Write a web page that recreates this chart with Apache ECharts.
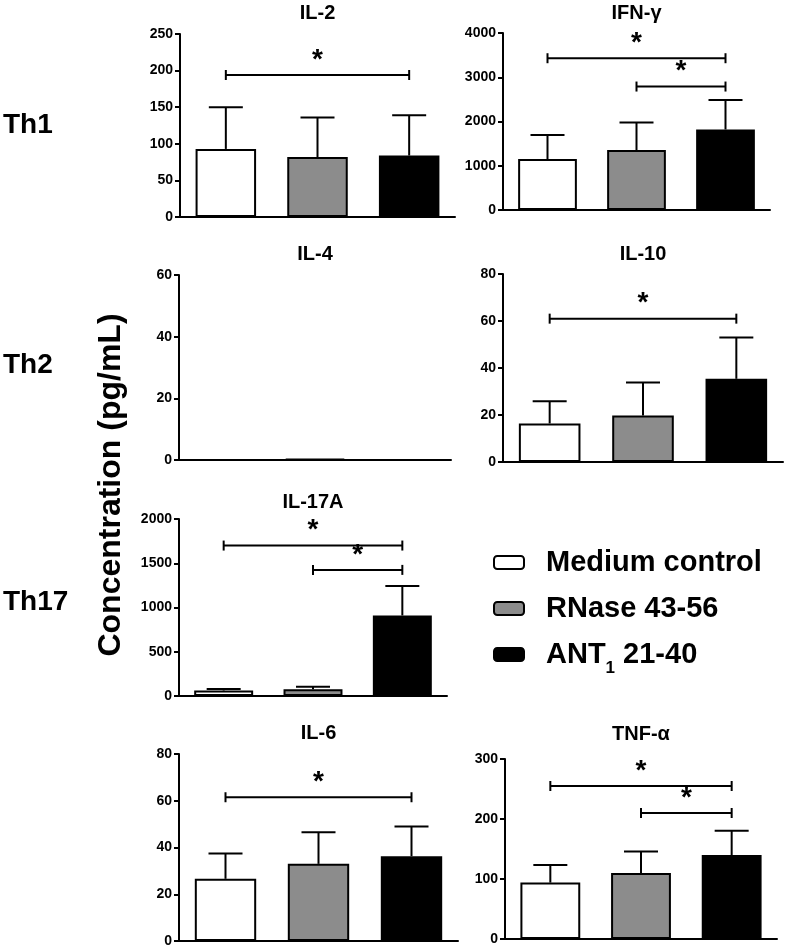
<!DOCTYPE html>
<html>
<head>
<meta charset="utf-8">
<script src="https://cdn.jsdelivr.net/npm/echarts@6/dist/echarts.min.js"></script>
<style>
  html, body { margin: 0; padding: 0; background: #fff; }
  #chart { width: 788px; height: 949px; }
</style>
</head>
<body>
<div id="chart"></div>
<script>
// groups (legend order) and bar fills
var groups = ["Medium control", "RNase 43-56", "ANT1 21-40"];
var fills = ["#ffffff", "#8c8c8c", "#000000"];

// mean and SD (pg/mL)
var il2Mean = [93, 82, 84];
var il2Sd = [57, 54, 55];
var ifnMean = [1150, 1355, 1820];
var ifnSd = [545, 620, 665];
var il4Mean = [0, 0.4, 0];
var il4Sd = [0, 0, 0];
var il10Mean = [16.4, 19.8, 35.4];
var il10Sd = [9.4, 14, 17.6];
var il17Mean = [62, 75, 910];
var il17Sd = [16, 30, 333];
var il6Mean = [26.6, 33, 36.3];
var il6Sd = [10.8, 13.5, 12.7];
var tnfMean = [94, 110, 140];
var tnfSd = [29.5, 36, 40.5];

// significance brackets: [from group, to group, height]
var il2Sig = [[0, 2, 194]];
var ifnSig = [[0, 2, 3430], [1, 2, 2790]];
var il4Sig = [];
var il10Sig = [[0, 2, 61]];
var il17Sig = [[0, 2, 1700], [1, 2, 1425]];
var il6Sig = [[0, 2, 61.5]];
var tnfSig = [[0, 2, 255], [1, 2, 210]];

var FONT = "'Liberation Sans', Arial, sans-serif";

var panels = [
  { title: "IL-2", mean: il2Mean, sd: il2Sd, sig: il2Sig, max: 250, step: 50, rect: [180, 34, 275, 183], ty: 13 },
  { title: "IFN-γ", mean: ifnMean, sd: ifnSd, sig: ifnSig, max: 4000, step: 1000, rect: [503, 33, 267, 177], ty: 13 },
  { title: "IL-4", mean: il4Mean, sd: il4Sd, sig: il4Sig, max: 60, step: 20, rect: [179, 275, 272, 185], ty: 254 },
  { title: "IL-10", mean: il10Mean, sd: il10Sd, sig: il10Sig, max: 80, step: 20, rect: [503, 274, 280, 188], ty: 254 },
  { title: "IL-17A", mean: il17Mean, sd: il17Sd, sig: il17Sig, max: 2000, step: 500, rect: [179, 519, 268, 177], ty: 502 },
  { title: "IL-6", mean: il6Mean, sd: il6Sd, sig: il6Sig, max: 80, step: 20, rect: [179, 754, 279, 187], ty: 733 },
  { title: "TNF-α", mean: tnfMean, sd: tnfSd, sig: tnfSig, max: 300, step: 100, rect: [505, 759, 272, 180], ty: 734 }
];

function renderErr(params, api) {
  var b = api.coord([api.value(0), api.value(1)]);
  var t = api.coord([api.value(0), api.value(2)]);
  var st = { stroke: "#000", lineWidth: 2 };
  return {
    type: "group",
    children: [
      { type: "line", shape: { x1: b[0], y1: b[1], x2: t[0], y2: t[1] }, style: st },
      { type: "line", shape: { x1: t[0] - 17, y1: t[1], x2: t[0] + 17, y2: t[1] }, style: st }
    ]
  };
}

function renderSig(params, api) {
  var a = api.coord([api.value(0), api.value(2)]);
  var b = api.coord([api.value(1), api.value(2)]);
  var st = { stroke: "#000", lineWidth: 2 };
  return {
    type: "group",
    children: [
      { type: "line", shape: { x1: a[0], y1: a[1], x2: b[0], y2: b[1] }, style: st },
      { type: "line", shape: { x1: a[0], y1: a[1] - 5, x2: a[0], y2: a[1] + 5 }, style: st },
      { type: "line", shape: { x1: b[0], y1: b[1] - 5, x2: b[0], y2: b[1] + 5 }, style: st },
      {
        type: "text",
        style: {
          text: "*", x: (a[0] + b[0]) / 2, y: a[1] - 1,
          font: "bold 28px " + FONT, fill: "#000",
          align: "center", verticalAlign: "bottom",
          textAlign: "center", textVerticalAlign: "bottom"
        }
      }
    ]
  };
}

var grid = [], xAxis = [], yAxis = [], series = [], graphic = [];

panels.forEach(function (p, i) {
  var r = p.rect;
  grid.push({ left: r[0], top: r[1], width: r[2], height: r[3] });
  xAxis.push({
    type: "category", gridIndex: i, data: groups,
    axisLine: { lineStyle: { color: "#000", width: 2 } },
    axisTick: { show: false }, axisLabel: { show: false }
  });
  yAxis.push({
    type: "value", gridIndex: i, min: 0, max: p.max, interval: p.step,
    splitLine: { show: false },
    axisLine: { show: true, lineStyle: { color: "#000", width: 2 } },
    axisTick: { show: true, length: 5, lineStyle: { color: "#000", width: 2 } },
    axisLabel: {
      color: "#000", fontWeight: "bold", fontSize: 14, fontFamily: FONT, margin: 7,
      formatter: function (v) { return String(v); }
    }
  });
  groups.forEach(function (g, k) {
    var d = groups.map(function (_, j) { return j === k ? p.mean[j] : "-"; });
    series.push({
      type: "bar", name: g, xAxisIndex: i, yAxisIndex: i, data: d,
      barWidth: "66%", barGap: "-100%", silent: true,
      itemStyle: { color: fills[k], borderColor: "#000", borderWidth: 2 }
    });
  });
  var err = [];
  p.mean.forEach(function (m, j) { if (p.sd[j] > 0) err.push([j, m, m + p.sd[j]]); });
  if (err.length) {
    series.push({
      type: "custom", xAxisIndex: i, yAxisIndex: i, data: err, z: 5, silent: true,
      encode: { x: 0, y: [1, 2] }, renderItem: renderErr
    });
  }
  if (p.sig.length) {
    series.push({
      type: "custom", xAxisIndex: i, yAxisIndex: i, data: p.sig, z: 5, silent: true,
      encode: { x: [0, 1], y: 2 }, renderItem: renderSig
    });
  }
  graphic.push({
    type: "text",
    style: {
      text: p.title, x: r[0] + r[2] / 2, y: p.ty, font: "bold 20px " + FONT, fill: "#000",
      align: "center", verticalAlign: "middle", textAlign: "center", textVerticalAlign: "middle"
    }
  });
});

[["Th1", 125], ["Th2", 365], ["Th17", 602]].forEach(function (t) {
  graphic.push({
    type: "text",
    style: {
      text: t[0], x: 3, y: t[1], font: "bold 28px " + FONT, fill: "#000",
      align: "left", verticalAlign: "middle", textAlign: "left", textVerticalAlign: "middle"
    }
  });
});

graphic.push({
  type: "text", x: 111, y: 485, rotation: Math.PI / 2,
  style: {
    text: "Concentration (pg/mL)", x: 0, y: 0, font: "bold 32px " + FONT, fill: "#000",
    align: "center", verticalAlign: "middle", textAlign: "center", textVerticalAlign: "middle"
  }
});

var option = {
  animation: false,
  backgroundColor: "#fff",
  grid: grid,
  xAxis: xAxis,
  yAxis: yAxis,
  series: series,
  graphic: graphic,
  legend: {
    orient: "vertical", left: 488, top: 543, itemWidth: 30, itemHeight: 13, itemGap: 17,
    icon: "roundRect", selectedMode: false,
    data: groups.map(function (g, k) {
      return { name: g, itemStyle: { color: fills[k], borderColor: "#000", borderWidth: 2 } };
    }),
    formatter: function (name) {
      if (name === "ANT1 21-40") return "{a|ANT}{s|1}{a| 21-40}";
      return "{a|" + name + "}";
    },
    textStyle: {
      padding: [0, 0, 0, 17],
      rich: {
        a: { fontSize: 29, fontWeight: "bold", fontFamily: FONT, color: "#000", lineHeight: 33 },
        s: { fontSize: 17, fontWeight: "bold", fontFamily: FONT, color: "#000", lineHeight: 17, verticalAlign: "bottom", padding: [0, 0, -6, 0] }
      }
    }
  }
};

var chart = echarts.init(document.getElementById("chart"));
chart.setOption(option);
</script>
</body>
</html>
